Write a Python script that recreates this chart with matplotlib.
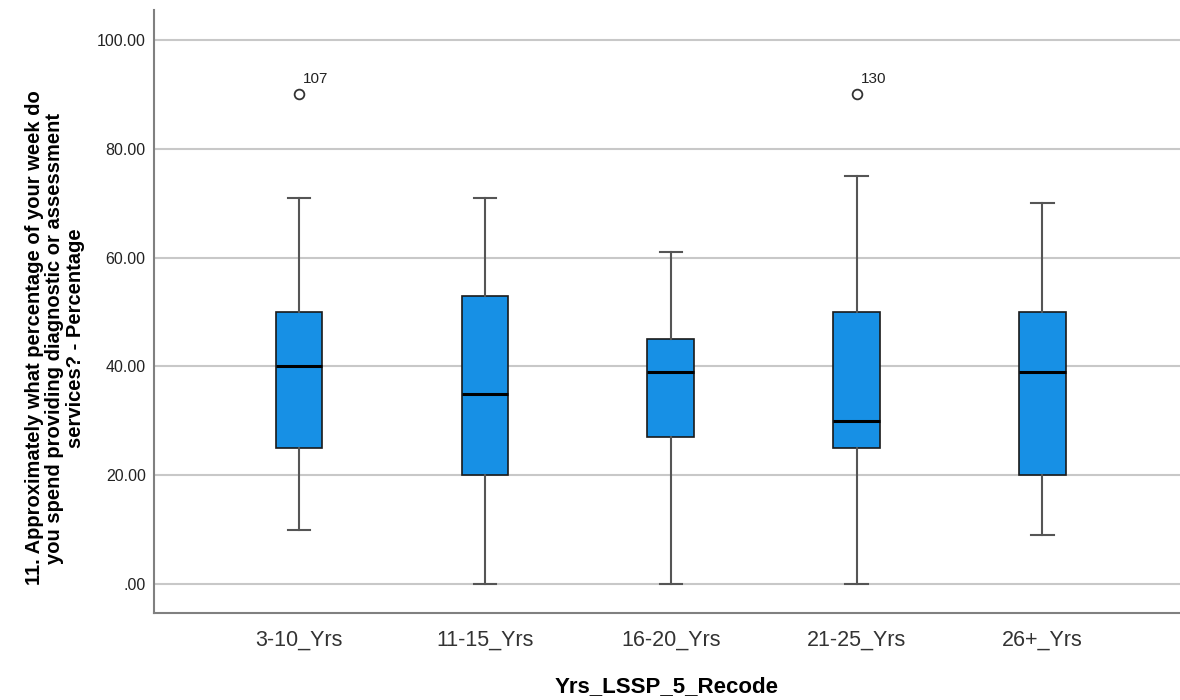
import matplotlib.pyplot as plt

# Données
groups = ['3-10_Yrs', '11-15_Yrs', '16-20_Yrs', '21-25_Yrs', '26+_Yrs']
whisk_low = [10, 0, 0, 0, 9]
q1 = [25, 20, 27, 25, 20]
median = [40, 35, 39, 30, 39]
q3 = [50, 53, 45, 50, 50]
whisk_high = [71, 71, 61, 75, 70]
outliers = [[90], [], [], [90], []]
outlier_ids = [['107'], [], [], ['130'], []]
y_ticks = [0, 20, 40, 60, 80, 100]
y_tick_labels = ['.00', '20.00', '40.00', '60.00', '80.00', '100.00']

plt.rcParams['font.family'] = ['Liberation Sans', 'DejaVu Sans']

stats = []
for i in range(len(groups)):
    stats.append({'whislo': whisk_low[i], 'q1': q1[i], 'med': median[i],
                  'q3': q3[i], 'whishi': whisk_high[i], 'fliers': outliers[i]})

fig = plt.figure(figsize=(11.8, 7), dpi=100)
ax = fig.add_axes([154 / 1180, 87 / 700, 1026 / 1180, 603 / 700])

positions = list(range(1, len(groups) + 1))
ax.bxp(stats, positions=positions, widths=0.25, patch_artist=True,
       boxprops=dict(facecolor='#1790E5', edgecolor='#1a1a1a', linewidth=1.2),
       medianprops=dict(color='black', linewidth=2.2),
       whiskerprops=dict(color='#555555', linewidth=1.5),
       capprops=dict(color='#555555', linewidth=1.5),
       capwidths=0.12,
       flierprops=dict(marker='o', markersize=7, markerfacecolor='white',
                       markeredgecolor='#333333', markeredgewidth=1.3),
       zorder=3)

# Etiquettes des valeurs aberrantes
for pos, vals, ids in zip(positions, outliers, outlier_ids):
    for v, lab in zip(vals, ids):
        ax.annotate(lab, (pos, v), xytext=(3, 8), textcoords='offset points',
                    fontsize=11, color='#222222')

ax.set_xlim(0.22, 5.74)
ax.set_ylim(-5.3, 105.5)
ax.set_yticks(y_ticks)
ax.set_yticklabels(y_tick_labels, fontsize=11.5, color='#222222')
ax.set_xticks(positions)
ax.set_xticklabels(groups, fontsize=15.5, color='#333333')
ax.tick_params(axis='x', length=0, pad=12)
ax.tick_params(axis='y', length=0, pad=6)
ax.grid(axis='y', color='#c8c8c8', linewidth=1.5, zorder=0)
ax.set_axisbelow(True)

for side in ['top', 'right']:
    ax.spines[side].set_visible(False)
for side in ['left', 'bottom']:
    ax.spines[side].set_color('#808080')
    ax.spines[side].set_linewidth(1.5)

ax.set_xlabel('Yrs_LSSP_5_Recode', fontsize=16, fontweight='bold', labelpad=18)
fig.text(55 / 1180, 1 - 338 / 700,
         '11. Approximately what percentage of your week do\n'
         'you spend providing diagnostic or assessment\nservices? - Percentage',
         fontsize=14.5, fontweight='bold', rotation=90, ha='center', va='center',
         multialignment='center', linespacing=1.1)

plt.savefig('out.png', dpi=100)
